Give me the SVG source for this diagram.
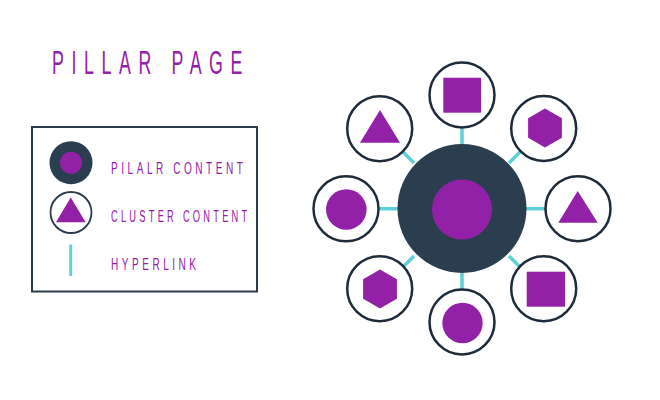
<svg xmlns="http://www.w3.org/2000/svg" width="660" height="400" viewBox="0 0 660 400">
<style>
.lbl{font-family:"Liberation Sans",Arial,sans-serif;fill:#9321a8;}
.node{fill:#fff;stroke:#1e2c3a;stroke-width:2.5;}
.sh{fill:#9321a8;}
.link{stroke:#5fd0d8;stroke-width:3.5;stroke-linecap:butt;}
</style>
<rect width="660" height="400" fill="#fff"/>
<text class="lbl" x="52" y="74" font-size="32.5" textLength="198" lengthAdjust="spacingAndGlyphs" letter-spacing="14">PILLAR PAGE</text>
<g id="legend">
<rect x="32" y="127" width="225" height="164.5" fill="none" stroke="#2b3b4c" stroke-width="2"/>
<circle cx="71" cy="162.7" r="21.5" fill="#2b3e50"/>
<circle cx="71" cy="162.7" r="11" class="sh"/>
<text class="lbl" x="111" y="174" font-size="17.2" textLength="135.5" lengthAdjust="spacingAndGlyphs" letter-spacing="6">PILALR CONTENT</text>
<circle cx="71" cy="212.5" r="20.5" fill="#fff" stroke="#2b3b4c" stroke-width="1.8"/>
<polygon points="70.7,197.5 85.7,222.3 56,222.3" class="sh"/>
<text class="lbl" x="111" y="222.3" font-size="17.2" textLength="139.5" lengthAdjust="spacingAndGlyphs" letter-spacing="6">CLUSTER CONTENT</text>
<line x1="70.7" y1="244.5" x2="70.7" y2="276" stroke="#5fd0d8" stroke-width="3"/>
<text class="lbl" x="111" y="270" font-size="17.2" textLength="88.5" lengthAdjust="spacingAndGlyphs" letter-spacing="6">HYPERLINK</text>
</g>
<g id="connectors">
<line class="link" x1="462" y1="127" x2="462" y2="144"/>
<line class="link" x1="462" y1="273" x2="462" y2="290"/>
<line class="link" x1="378" y1="208.7" x2="398" y2="208.7"/>
<line class="link" x1="526" y1="208.7" x2="546" y2="208.7"/>
<line class="link" x1="402" y1="151" x2="414" y2="163"/>
<line class="link" x1="521" y1="151" x2="509" y2="163"/>
<line class="link" x1="414" y1="256" x2="402" y2="268"/>
<line class="link" x1="509" y1="256" x2="521" y2="268"/>
</g>
<g id="pillar">
<circle cx="462" cy="208.5" r="64.5" fill="#2b3e50"/>
<circle cx="462" cy="209.5" r="30" class="sh"/>
</g>
<g id="n-top">
<circle class="node" cx="462" cy="95" r="32.5"/>
<rect class="sh" x="443.3" y="77.7" width="37.7" height="35"/>
</g>
<g id="n-topright">
<circle class="node" cx="543.7" cy="128.5" r="32.5"/>
<polygon class="sh" points="545,108.5 561.9,118.25 561.9,137.75 545,147.5 528.1,137.75 528.1,118.25"/>
</g>
<g id="n-right">
<circle class="node" cx="578" cy="208.7" r="32.5"/>
<polygon class="sh" points="577.7,191 597.7,222.7 558.3,222.7"/>
</g>
<g id="n-bottomright">
<circle class="node" cx="543.7" cy="288.7" r="32.5"/>
<rect class="sh" x="526.7" y="271.7" width="38.3" height="35"/>
</g>
<g id="n-bottom">
<circle class="node" cx="462" cy="322" r="32.5"/>
<circle class="sh" cx="462.5" cy="323" r="20.2"/>
</g>
<g id="n-bottomleft">
<circle class="node" cx="379.7" cy="288.7" r="32.5"/>
<polygon class="sh" points="380,269.5 396.9,279.25 396.9,298.75 380,308.5 363.1,298.75 363.1,279.25"/>
</g>
<g id="n-left">
<circle class="node" cx="346" cy="208.8" r="32.5"/>
<circle class="sh" cx="346.3" cy="209.5" r="20.3"/>
</g>
<g id="n-topleft">
<circle class="node" cx="379.7" cy="128.7" r="32.5"/>
<polygon class="sh" points="380,110 400,142.7 360,142.7"/>
</g>
</svg>
